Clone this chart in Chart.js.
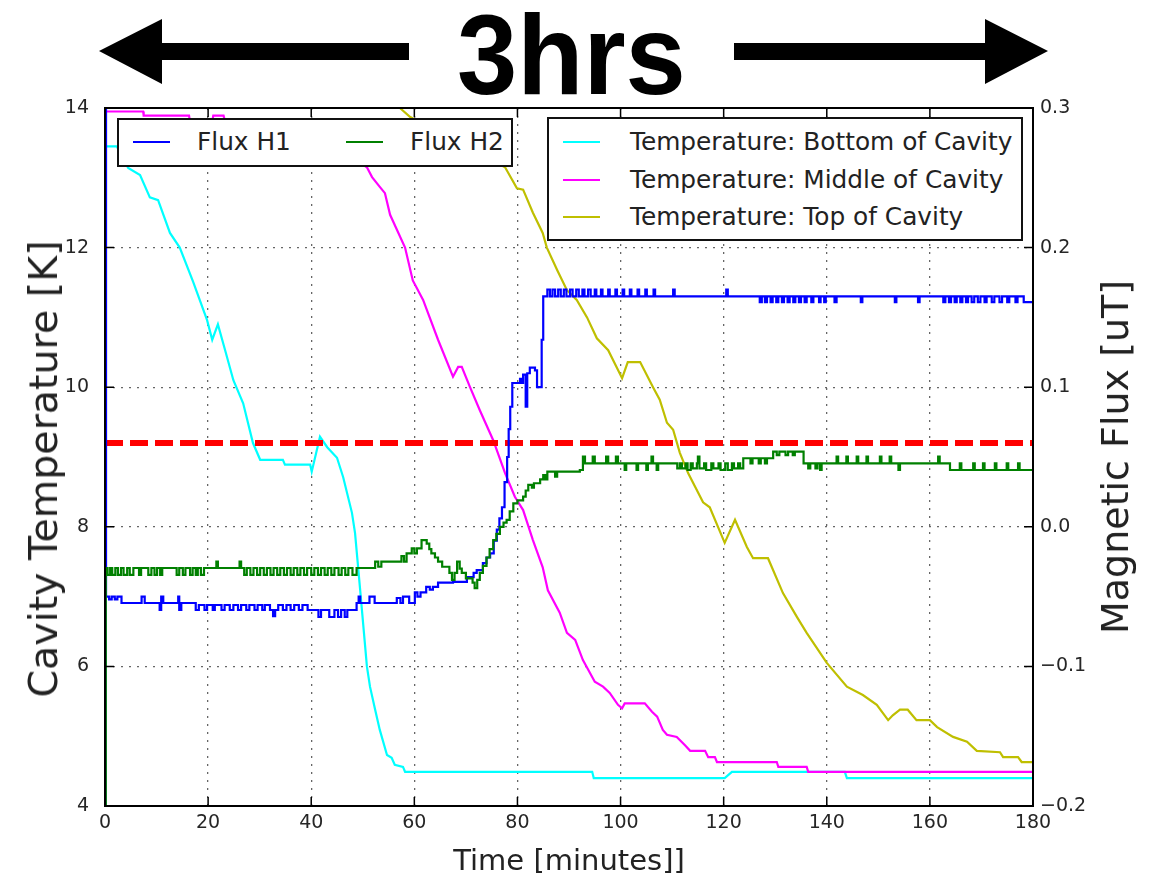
<!DOCTYPE html>
<html>
<head>
<meta charset="utf-8">
<script src="https://cdn.jsdelivr.net/npm/chart.js@4.4.1/dist/chart.umd.min.js"></script>
<style>
  body { margin: 0; background: #fff; }
  #wrap { position: relative; width: 1154px; height: 874px; font-family: "DejaVu Sans", sans-serif; color: #222; }
  #hrs { position: absolute; left: 0; width: 1154px; top: -2px; text-align: center; font: bold 114px/114px "Liberation Sans", Arial, sans-serif; color: #000; }
  #hrs span { display: inline-block; transform: scaleX(0.95); margin-left: -12px; }
  .ytitle { position: absolute; white-space: nowrap; line-height: 40px; transform: translate(-50%, -50%) rotate(-90deg); }
  #xtitle { position: absolute; left: 569px; top: 843px; transform: translateX(-50%); font-size: 29px; line-height: 34px; white-space: nowrap; }
  .legend { position: absolute; background: #fff; border: 2px solid #111; box-sizing: border-box; }
  .lg-line { position: absolute; width: 37px; height: 2px; }
  .lg-text { position: absolute; font-size: 24.8px; line-height: 30px; white-space: nowrap; }
</style>
</head>
<body>
<div id="wrap">
  <canvas id="chart" width="1154" height="874"></canvas>
  <div id="hrs"><span>3hrs</span></div>
  <div class="ytitle" style="left:43px;top:469px;font-size:39.5px">Cavity Temperature [K]</div>
  <div class="ytitle" style="left:1115px;top:457px;font-size:38px">Magnetic Flux [uT]</div>
  <div id="xtitle">Time [minutes]]</div>
  <div class="legend" style="left:117px;top:118px;width:396px;height:49px">
    <div class="lg-line" style="left:14px;top:21px;background:#0000ff"></div>
    <div class="lg-text" style="left:78px;top:7px">Flux H1</div>
    <div class="lg-line" style="left:227px;top:21px;background:#008000"></div>
    <div class="lg-text" style="left:291px;top:7px">Flux H2</div>
  </div>
  <div class="legend" style="left:547px;top:117px;width:476px;height:124px">
    <div class="lg-line" style="left:14px;top:22px;background:#00ffff"></div>
    <div class="lg-text" style="left:81px;top:8px">Temperature: Bottom of Cavity</div>
    <div class="lg-line" style="left:14px;top:60px;background:#ff00ff"></div>
    <div class="lg-text" style="left:81px;top:46px">Temperature: Middle of Cavity</div>
    <div class="lg-line" style="left:14px;top:97px;background:#bfbf00"></div>
    <div class="lg-text" style="left:81px;top:83px">Temperature: Top of Cavity</div>
  </div>
</div>
<script>
// tick positions and labels
const xTicks = [0, 20, 40, 60, 80, 100, 120, 140, 160, 180];
const tempTicks = [4, 6, 8, 10, 12, 14];
const fluxTicks = [-0.2, -0.1, 0.0, 0.1, 0.2, 0.3];
const fluxLabels = ['\u22120.2', '\u22120.1', '0.0', '0.1', '0.2', '0.3'];

// threshold line (K)
const threshold = 9.2;

// Temperature: Bottom of Cavity
const bottomT = [0, 2.3, 4.5, 6.8, 8.7, 10.3, 12.6, 14.5, 17.1, 19.8, 20.8, 21.9, 23.3, 24.9, 26.8, 28.7, 30.1, 34.5, 34.9, 39.8, 40.1, 41.7, 43.1, 45.0, 46.2, 47.9, 48.5, 49.5, 50.8, 51.4, 52.4, 53.3, 54.7, 55.6, 56.2, 57.8, 58.2, 94.5, 94.8, 120.2, 121.6, 143.5, 143.9, 180];
const bottomK = [13.45, 13.45, 13.14, 13.04, 12.72, 12.68, 12.21, 12.0, 11.51, 10.96, 10.68, 10.9, 10.53, 10.1, 9.77, 9.2, 8.96, 8.96, 8.89, 8.89, 8.79, 9.29, 9.14, 8.99, 8.71, 8.2, 7.91, 7.09, 6.0, 5.71, 5.38, 5.09, 4.73, 4.69, 4.59, 4.56, 4.49, 4.49, 4.40, 4.40, 4.49, 4.49, 4.40, 4.40];

// Temperature: Middle of Cavity
const middleT = [0, 7.4, 7.5, 16.3, 16.5, 20.8, 21.0, 23.0, 23.3, 35, 45, 50.8, 51.8, 53.3, 54.3, 55.3, 58.2, 59.7, 61.7, 64.6, 67.5, 68.5, 69.2, 70.8, 72.7, 75.3, 77.6, 79.5, 81.1, 83.0, 84.9, 85.9, 88.2, 89.6, 91.2, 92.7, 95.0, 96.6, 97.9, 99.5, 100.3, 100.8, 104.7, 106.1, 107.1, 108.2, 109.0, 110.9, 112.5, 113.5, 116.4, 117.0, 118.3, 118.7, 130.3, 130.6, 136.1, 136.4, 180];
const middleK = [13.95, 13.95, 13.89, 13.89, 13.8, 13.8, 13.89, 13.89, 13.8, 13.7, 13.45, 13.15, 13.01, 12.87, 12.78, 12.47, 12.0, 11.53, 11.25, 10.68, 10.15, 10.29, 10.29, 10.0, 9.67, 9.24, 8.77, 8.43, 8.24, 7.81, 7.42, 7.09, 6.77, 6.48, 6.38, 6.09, 5.78, 5.71, 5.62, 5.45, 5.40, 5.47, 5.47, 5.35, 5.28, 5.09, 5.02, 4.99, 4.87, 4.79, 4.79, 4.70, 4.70, 4.63, 4.63, 4.56, 4.56, 4.49, 4.49];

// Temperature: Top of Cavity
const topT = [0, 55, 57.2, 59.2, 77.6, 79.9, 81.1, 83.0, 84.9, 85.7, 87.7, 89.6, 91.5, 93.5, 95.4, 97.6, 100.3, 101.4, 103.8, 106.3, 107.6, 109.0, 110.2, 111.5, 113.1, 116.0, 117.3, 120.2, 122.2, 124.5, 125.7, 128.6, 131.5, 134.2, 136.1, 140.0, 143.9, 147.0, 149.7, 151.9, 152.8, 154.2, 155.7, 157.4, 160.0, 161.4, 164.5, 167.2, 169.1, 173.6, 174.2, 177.1, 177.8, 180];
const topK = [14.6, 14.6, 14.0, 13.87, 13.15, 12.85, 12.83, 12.5, 12.21, 12.0, 11.68, 11.39, 11.25, 11.0, 10.7, 10.53, 10.13, 10.36, 10.36, 10.0, 9.82, 9.49, 9.39, 9.06, 8.77, 8.35, 8.28, 7.77, 8.1, 7.71, 7.55, 7.55, 7.05, 6.71, 6.48, 6.05, 5.71, 5.59, 5.45, 5.23, 5.30, 5.38, 5.38, 5.23, 5.23, 5.13, 4.99, 4.92, 4.79, 4.77, 4.70, 4.70, 4.63, 4.63];

// Flux H1 (uT), stepped
const h1T = [0, 0.1, 0.2, 0.8, 1.3, 1.9, 2.4, 3.2, 7.1, 7.7, 10.6, 10.9, 11.3, 14.2, 14.4, 14.8,
  17.6, 18.2, 19.3, 19.8, 20.9, 21.3, 22.6, 23.2, 24.2, 24.9, 25.8, 26.4, 27.4, 28.0, 29.0, 29.6, 30.5, 31.0, 32.0, 32.6, 33.0, 33.6, 34.5, 35.2, 36.0, 36.7, 37.6, 38.3, 39.3,
  41.4, 41.9, 43.5, 44.5, 45.2, 45.8, 46.5, 47.0, 48.8, 49.2, 49.5, 51.3, 52.3,
  56.6, 57.3, 57.8, 59.0, 60.1, 60.6, 61.2, 62.3, 63.0, 63.6, 64.6, 67.5,
  70.2, 71.5, 72.1, 73.3, 74.0, 74.7, 75.4, 76.0, 76.5, 77.0, 77.5, 78.0, 78.3, 78.6, 79.0, 80.5, 80.8, 81.1, 81.6, 81.9, 82.4, 83.4, 83.8, 84.4, 84.7, 85.0,
  85.8, 86.3, 86.8, 87.3, 87.9, 88.4, 89.0, 89.5, 90.2, 90.7, 91.4, 91.9, 92.6, 93.0, 93.7, 94.2, 95.0, 95.3, 96.2, 96.5, 97.6, 97.9, 99.0, 99.3, 100.4, 100.7, 101.8, 102.1, 103.3, 103.6, 104.8, 105.1, 106.4, 106.7, 110.2, 110.5, 120.5, 120.8,
  127.0, 127.4, 128.0, 128.4, 129.1, 129.5, 130.2, 130.6, 131.3, 131.7, 132.4, 132.8, 133.5, 133.9, 134.6, 135.0, 135.7, 136.1, 137.0, 137.4, 138.5, 138.8, 139.5, 139.8, 141.5, 141.9, 146.6, 146.9, 153.2, 153.5, 157.7, 158.0,
  162.6, 163.0, 163.7, 164.1, 164.8, 165.2, 165.9, 166.3, 167.0, 167.4, 168.1, 168.6, 169.3, 169.8, 170.6, 171.0, 172.0, 172.5, 173.5, 174.0, 175.0, 175.4, 176.6, 177.0, 178.2, 180];
const h1V = [-0.26, 0.35, -0.050, -0.052, -0.050, -0.052, -0.050, -0.0546, -0.050, -0.0546, -0.0596, -0.050, -0.0546, -0.050, -0.0596, -0.0546,
  -0.0596, -0.056, -0.0596, -0.056, -0.0596, -0.056, -0.0596, -0.056, -0.0596, -0.056, -0.0596, -0.056, -0.0596, -0.056, -0.0596, -0.056, -0.0596, -0.056, -0.0596, -0.064, -0.0596, -0.056, -0.0596, -0.056, -0.0596, -0.056, -0.0596, -0.056, -0.0596,
  -0.0646, -0.0596, -0.0646, -0.0596, -0.0646, -0.0596, -0.0646, -0.0596, -0.0546, -0.050, -0.0546, -0.050, -0.0546,
  -0.051, -0.0546, -0.050, -0.0546, -0.047, -0.050, -0.047, -0.043, -0.045, -0.043, -0.040, -0.0395,
  -0.036, -0.033, -0.031, -0.026, -0.022, -0.019, -0.010, -0.002, 0.006, 0.014, 0.032, 0.050, 0.070, 0.086, 0.103, 0.106, 0.103, 0.109, 0.086, 0.110, 0.114, 0.112, 0.100, 0.100, 0.134, 0.165,
  0.170, 0.165, 0.170, 0.165, 0.170, 0.165, 0.170, 0.165, 0.170, 0.165, 0.170, 0.165, 0.170, 0.165, 0.170, 0.165, 0.170, 0.165, 0.170, 0.165, 0.170, 0.165, 0.170, 0.165, 0.170, 0.165, 0.170, 0.165, 0.170, 0.165, 0.170, 0.165, 0.170, 0.165, 0.170, 0.165, 0.170, 0.165,
  0.161, 0.165, 0.161, 0.165, 0.161, 0.165, 0.161, 0.165, 0.161, 0.165, 0.161, 0.165, 0.161, 0.165, 0.161, 0.165, 0.161, 0.165, 0.161, 0.165, 0.161, 0.165, 0.161, 0.165, 0.161, 0.165, 0.161, 0.165, 0.161, 0.165, 0.161, 0.165,
  0.161, 0.165, 0.161, 0.165, 0.161, 0.165, 0.161, 0.165, 0.161, 0.165, 0.161, 0.165, 0.161, 0.165, 0.161, 0.165, 0.161, 0.165, 0.161, 0.165, 0.161, 0.165, 0.161, 0.165, 0.161, 0.161];

// Flux H2 (uT), stepped
const h2T = [0, 0.15, 0.5, 1.0, 1.4, 2.0, 2.5, 3.1, 3.6, 4.3, 4.8, 5.5, 6.6, 7.0, 8.4, 9.0, 9.6, 10.1, 10.7, 11.1, 13.9, 14.4, 15.1, 15.6, 16.5, 17.0, 17.6, 18.0, 18.6, 19.2, 21.6, 21.9, 26.1, 26.4,
  27.0, 27.5, 28.2, 28.8, 29.5, 30.1, 30.8, 31.4, 32.1, 32.7, 33.4, 34.0, 34.7, 35.3, 36.0, 36.6, 37.3, 37.9, 38.6, 39.2, 40.0, 40.6, 41.3, 41.9, 42.6, 43.2, 43.9, 44.5, 45.3, 45.9, 46.6, 47.2, 48.0, 48.8,
  52.4, 53.0, 53.6, 57.5, 58.0, 58.5, 59.5, 60.0, 60.5, 61.4, 62.4, 62.9, 63.3, 64.0, 64.6, 65.4, 66.3, 66.8, 67.3, 67.8, 68.3, 68.8, 69.2, 70.0, 70.8, 71.3, 71.7, 72.2, 72.7, 73.3, 74.0, 74.6, 75.3, 75.9, 76.6, 77.3, 77.9, 78.5, 79.2, 80.0, 81.1, 81.6, 82.1, 82.8, 83.2, 84.4, 85.0, 85.4, 85.8, 87.3, 87.7, 92.1,
  92.7, 93.1, 94.6, 95.0, 97.2, 97.6, 99.1, 99.5, 100.8, 101.1, 103.1, 103.4, 105.0, 105.3, 106.0, 106.3, 107.0, 107.3,
  111.0, 111.5, 111.9, 112.6, 113.0, 113.6, 114.0, 114.8, 115.0, 115.3, 116.2, 116.6, 117.6, 118.0, 119.0, 119.4, 120.3, 120.8, 121.6, 122.0, 122.8, 123.2, 123.8, 125.2, 125.6, 126.8, 127.2, 128.0, 128.4,
  129.6, 130.3, 130.8, 132.0, 132.5, 133.4, 133.8, 135.5, 136.4, 136.8, 137.8, 138.2, 138.7, 139.0, 141.9, 142.2, 143.8, 144.1, 145.8, 146.1, 147.7, 148.0, 150.3, 150.6, 152.2, 152.5, 153.9, 154.2, 161.6, 161.9,
  163.9, 165.8, 166.1, 168.4, 168.7, 170.3, 170.6, 172.6, 172.9, 174.9, 175.2, 177.1, 177.4, 180];
const h2V = [-0.26, -0.0295, -0.0345, -0.0295, -0.0345, -0.0295, -0.0345, -0.0295, -0.0345, -0.0295, -0.0345, -0.0295, -0.0345, -0.0295, -0.0345, -0.0295, -0.0345, -0.0295, -0.0345, -0.0295, -0.0345, -0.0295, -0.0345, -0.0295, -0.0345, -0.0295, -0.0345, -0.0295, -0.0345, -0.0295, -0.025, -0.0295, -0.025, -0.0295,
  -0.0345, -0.0295, -0.0345, -0.0295, -0.0345, -0.0295, -0.0345, -0.0295, -0.0345, -0.0295, -0.0345, -0.0295, -0.0345, -0.0295, -0.0345, -0.0295, -0.0345, -0.0295, -0.0345, -0.0295, -0.0345, -0.0295, -0.0345, -0.0295, -0.0345, -0.0295, -0.0345, -0.0295, -0.0345, -0.0295, -0.0345, -0.0295, -0.0345, -0.0295,
  -0.025, -0.0286, -0.025, -0.021, -0.025, -0.019, -0.0155, -0.019, -0.0155, -0.0095, -0.012, -0.016, -0.019, -0.022, -0.025, -0.0286, -0.0286, -0.033, -0.038, -0.033, -0.025, -0.030, -0.033, -0.037, -0.037, -0.040, -0.044, -0.038, -0.033, -0.028, -0.022, -0.016, -0.0095, -0.005, 0.0, 0.003, 0.0049, 0.011, 0.0168, 0.019, 0.0216, 0.026, 0.030, 0.028, 0.0312, 0.034, 0.0371, 0.034, 0.0395, 0.036, 0.0395, 0.0407,
  0.0503, 0.0455, 0.0503, 0.0455, 0.0503, 0.0455, 0.0503, 0.0455, 0.0407, 0.0455, 0.0407, 0.0455, 0.0407, 0.0455, 0.0503, 0.0455, 0.0407, 0.0455,
  0.0419, 0.0455, 0.0419, 0.0455, 0.0407, 0.0455, 0.0419, 0.0455, 0.0503, 0.0419, 0.0455, 0.0407, 0.0455, 0.0419, 0.0455, 0.0407, 0.0455, 0.0407, 0.0455, 0.0419, 0.0455, 0.0419, 0.0491, 0.0455, 0.0491, 0.0455, 0.0491, 0.0455, 0.0491,
  0.0538, 0.0514, 0.0538, 0.0514, 0.0538, 0.0514, 0.0538, 0.0455, 0.0419, 0.0455, 0.0419, 0.0455, 0.0407, 0.0455, 0.0503, 0.0455, 0.0503, 0.0455, 0.0503, 0.0455, 0.0503, 0.0455, 0.0503, 0.0455, 0.0503, 0.0455, 0.0407, 0.0455, 0.0503, 0.0455,
  0.0407, 0.0455, 0.0407, 0.0455, 0.0407, 0.0455, 0.0407, 0.0455, 0.0407, 0.0455, 0.0407, 0.0455, 0.0407, 0.0407];

const pts = (xs, ys) => xs.map((x, i) => ({ x: x, y: ys[i] }));

const decor = {
  id: 'decor',
  afterDatasetsDraw(chart) {
    const { ctx, chartArea: a, scales } = chart;
    ctx.save();
    ctx.strokeStyle = '#000';
    ctx.lineWidth = 1.5;
    ctx.beginPath();
    scales.x.ticks.forEach(t => {
      const px = scales.x.getPixelForValue(t.value);
      ctx.moveTo(px, a.bottom); ctx.lineTo(px, a.bottom - 9);
      ctx.moveTo(px, a.top); ctx.lineTo(px, a.top + 9);
    });
    scales.y.ticks.forEach(t => {
      const py = scales.y.getPixelForValue(t.value);
      ctx.moveTo(a.left, py); ctx.lineTo(a.left + 9, py);
    });
    scales.y2.ticks.forEach(t => {
      const py = scales.y2.getPixelForValue(t.value);
      ctx.moveTo(a.right, py); ctx.lineTo(a.right - 9, py);
    });
    ctx.stroke();
    ctx.lineWidth = 2;
    ctx.strokeRect(a.left, a.top, a.right - a.left, a.bottom - a.top);
    ctx.restore();
  },
  afterDraw(chart) {
    // the two arrows around "3hrs"
    const ctx = chart.ctx;
    ctx.save();
    ctx.fillStyle = '#000';
    ctx.beginPath();
    ctx.moveTo(99, 51); ctx.lineTo(162, 19); ctx.lineTo(162, 43); ctx.lineTo(409, 43);
    ctx.lineTo(409, 60); ctx.lineTo(162, 60); ctx.lineTo(162, 84); ctx.closePath();
    ctx.moveTo(1048, 51); ctx.lineTo(985, 19); ctx.lineTo(985, 43); ctx.lineTo(734, 43);
    ctx.lineTo(734, 60); ctx.lineTo(985, 60); ctx.lineTo(985, 84); ctx.closePath();
    ctx.fill();
    ctx.restore();
  }
};

const tickFont = { family: 'DejaVu Sans', size: 19 };

new Chart(document.getElementById('chart'), {
  type: 'line',
  data: {
    datasets: [
      { label: 'Flux H2', data: pts(h2T, h2V), yAxisID: 'y2', borderColor: '#008000', borderWidth: 2.2, stepped: 'before' },
      { label: 'Flux H1', data: pts(h1T, h1V), yAxisID: 'y2', borderColor: '#0000ff', borderWidth: 2.2, stepped: 'before' },
      { label: 'threshold', data: [{ x: 0, y: threshold }, { x: 180, y: threshold }], yAxisID: 'y', borderColor: '#ff0000', borderWidth: 6, borderDash: [18, 7] },
      { label: 'Temperature: Top of Cavity', data: pts(topT, topK), yAxisID: 'y', borderColor: '#bfbf00', borderWidth: 2.2 },
      { label: 'Temperature: Middle of Cavity', data: pts(middleT, middleK), yAxisID: 'y', borderColor: '#ff00ff', borderWidth: 2.2 },
      { label: 'Temperature: Bottom of Cavity', data: pts(bottomT, bottomK), yAxisID: 'y', borderColor: '#00ffff', borderWidth: 2.2 }
    ]
  },
  options: {
    responsive: false,
    animation: false,
    elements: { point: { radius: 0 }, line: { tension: 0 } },
    layout: { padding: { top: 108, left: 0, right: 0, bottom: 0 } },
    plugins: { legend: { display: false }, tooltip: { enabled: false } },
    scales: {
      x: {
        type: 'linear', min: 0, max: 180,
        afterFit: s => { s.height = 68; },
        afterBuildTicks: s => { s.ticks = xTicks.map(v => ({ value: v })); },
        ticks: { font: tickFont, color: '#262626', padding: 6, maxRotation: 0 },
        grid: { color: '#666', lineWidth: 1.3, drawTicks: false },
        border: { display: false, dash: [2, 6] }
      },
      y: {
        type: 'linear', position: 'left', min: 4, max: 14,
        afterFit: s => { s.width = 105; },
        afterBuildTicks: s => { s.ticks = tempTicks.map(v => ({ value: v })); },
        ticks: { font: tickFont, color: '#262626', padding: 16 },
        grid: { color: '#666', lineWidth: 1.3, drawTicks: false },
        border: { display: false, dash: [2, 6] }
      },
      y2: {
        type: 'linear', position: 'right', min: -0.2, max: 0.3,
        afterFit: s => { s.width = 121; },
        afterBuildTicks: s => { s.ticks = fluxTicks.map(v => ({ value: v })); },
        ticks: { font: tickFont, color: '#262626', padding: 7, callback: (v, i) => fluxLabels[i] },
        grid: { display: false, drawTicks: false },
        border: { display: false }
      }
    }
  },
  plugins: [decor]
});
</script>
</body>
</html>
